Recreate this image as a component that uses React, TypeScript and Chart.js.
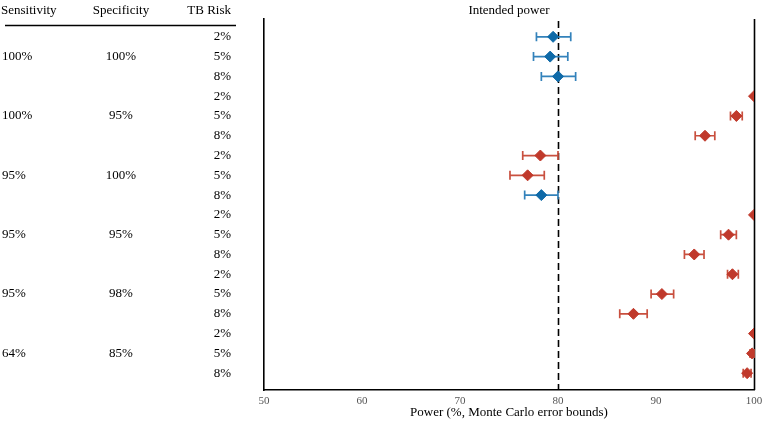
import React, { useEffect, useRef } from "react";
import { Chart, registerables } from "chart.js";

Chart.register(...registerables);

// Scenario table (one row per TB risk level)
const sensitivity = ["100%", "100%", "95%", "95%", "95%", "64%"];
const specificity = ["100%", "95%", "100%", "95%", "98%", "85%"];
const tbRisk = ["2%", "5%", "8%"];

// Estimated power and Monte Carlo error bounds, top row first
const power = [79.5, 79.2, 80.0, 100, 98.2, 95.0, 78.2, 76.9, 78.3, 100, 97.4, 93.9, 97.8, 90.6, 87.7, 100, 99.8, 99.3];
const lower = [77.8, 77.5, 78.3, 100, 97.6, 94.0, 76.4, 75.1, 76.6, 100, 96.6, 92.9, 97.3, 89.5, 86.3, 100, 99.6, 98.9];
const upper = [81.3, 81.0, 81.8, 100, 98.8, 96.0, 80.0, 78.6, 80.0, 100, 98.2, 94.9, 98.4, 91.8, 89.1, 100, 100, 99.7];
// Rows whose interval covers the intended power are shown in blue
const reachesTarget = [true, true, true, false, false, false, false, false, true, false, false, false, false, false, false, false, false, false];

const intendedPower = 80;
const xTicks = [50, 60, 70, 80, 90, 100];

const BLUE = "#0f6aa8";
const BLUE_BAR = "#3382bb";
const RED = "#c0392b";
const RED_BAR = "#c9503f";
const SERIF = "'Liberation Serif', 'Times New Roman', serif";

export default function App() {
  const ref = useRef<HTMLCanvasElement | null>(null);

  useEffect(() => {
    document.body.style.margin = "0";
    const canvas = ref.current;
    if (!canvas) return;

    const rows = power.map((v, i) => ({ x: v, y: i + 1 }));

    const overlay = {
      id: "forestOverlay",
      beforeDatasetsDraw(chart: any) {
        const { ctx, chartArea, scales } = chart;
        const xs = scales.x;
        const ys = scales.y;
        ctx.save();
        // intended-power reference line
        ctx.strokeStyle = "#000";
        ctx.lineWidth = 1.6;
        ctx.setLineDash([7, 4]);
        const x80 = Math.round(xs.getPixelForValue(intendedPower)) + 0.5;
        ctx.beginPath();
        ctx.moveTo(x80, chartArea.top + 2);
        ctx.lineTo(x80, chartArea.bottom);
        ctx.stroke();
        ctx.setLineDash([]);
        // 100% boundary
        const x100 = Math.round(xs.getPixelForValue(100)) + 0.5;
        ctx.beginPath();
        ctx.moveTo(x100, chartArea.top);
        ctx.lineTo(x100, chartArea.bottom);
        ctx.stroke();
        // error bars
        ctx.lineWidth = 1.7;
        for (let i = 0; i < power.length; i++) {
          if (upper[i] - lower[i] < 0.05) continue;
          const y = ys.getPixelForValue(i + 1);
          const x1 = xs.getPixelForValue(lower[i]);
          const x2 = xs.getPixelForValue(upper[i]);
          ctx.strokeStyle = reachesTarget[i] ? BLUE_BAR : RED_BAR;
          ctx.beginPath();
          ctx.moveTo(x1, y);
          ctx.lineTo(x2, y);
          ctx.moveTo(x1, y - 4.5);
          ctx.lineTo(x1, y + 4.5);
          ctx.moveTo(x2, y - 4.5);
          ctx.lineTo(x2, y + 4.5);
          ctx.stroke();
        }
        ctx.restore();
      },
      afterDraw(chart: any) {
        const { ctx, chartArea, scales } = chart;
        const ys = scales.y;
        ctx.save();
        ctx.fillStyle = "#000";
        ctx.font = `13px ${SERIF}`;
        ctx.textBaseline = "middle";
        // header
        ctx.textAlign = "left";
        ctx.fillText("Sensitivity", 1, 11);
        ctx.textAlign = "center";
        ctx.fillText("Specificity", 121, 11);
        ctx.textAlign = "right";
        ctx.fillText("TB Risk", 231, 11);
        ctx.strokeStyle = "#000";
        ctx.lineWidth = 1.5;
        ctx.beginPath();
        ctx.moveTo(5, 25.5);
        ctx.lineTo(236, 25.5);
        ctx.stroke();
        // chart heading
        ctx.textAlign = "center";
        ctx.fillText("Intended power", (chartArea.left + chartArea.right) / 2, 11);
        // table body
        for (let g = 0; g < sensitivity.length; g++) {
          for (let r = 0; r < tbRisk.length; r++) {
            const idx = g * tbRisk.length + r;
            const y = ys.getPixelForValue(idx + 1);
            ctx.textAlign = "right";
            ctx.fillText(tbRisk[r], 231, y);
            if (r === 1) {
              ctx.textAlign = "left";
              ctx.fillText(sensitivity[g], 2, y);
              ctx.textAlign = "center";
              ctx.fillText(specificity[g], 121, y);
            }
          }
        }
        ctx.restore();
      },
    };

    const chart = new Chart(canvas, {
      type: "scatter",
      data: {
        datasets: [
          {
            data: rows,
            pointStyle: "rectRot",
            pointRadius: 5.5,
            pointHoverRadius: 5.5,
            backgroundColor: reachesTarget.map((b) => (b ? BLUE : RED)),
            borderColor: reachesTarget.map((b) => (b ? BLUE : RED)),
            borderWidth: 1,
          },
        ],
      },
      options: {
        responsive: false,
        animation: false,
        events: [],
        layout: { padding: { left: 264, right: 10, top: 19, bottom: 0 } },
        plugins: {
          legend: { display: false },
          tooltip: { enabled: false },
          title: { display: false },
        },
        scales: {
          x: {
            type: "linear",
            min: 50,
            max: 100,
            afterBuildTicks: (axis: any) => {
              axis.ticks = xTicks.map((v) => ({ value: v }));
            },
            afterFit: (axis: any) => {
              axis.paddingRight = 0;
              axis.paddingLeft = 0;
            },
            grid: { display: false, drawTicks: false },
            border: { display: true, color: "#000", width: 1.6 },
            ticks: {
              color: "#555",
              font: { family: SERIF, size: 11, lineHeight: 1 },
              padding: 6,
              maxRotation: 0,
            },
            title: {
              display: true,
              text: "Power (%, Monte Carlo error bounds)",
              color: "#000",
              font: { family: SERIF, size: 13, lineHeight: 1 },
              padding: { top: -7, bottom: 6 },
            },
          },
          y: {
            type: "linear",
            reverse: true,
            min: 0.1,
            max: 18.85,
            grid: { display: false, drawTicks: false },
            border: { display: true, color: "#000", width: 1.6 },
            ticks: { display: false },
          },
        },
      },
      plugins: [overlay],
    });

    return () => chart.destroy();
  }, []);

  return (
    <div style={{ position: "absolute", left: 0, top: 0, width: 764, height: 425, background: "#fff" }}>
      <canvas ref={ref} width={764} height={425} />
    </div>
  );
}
